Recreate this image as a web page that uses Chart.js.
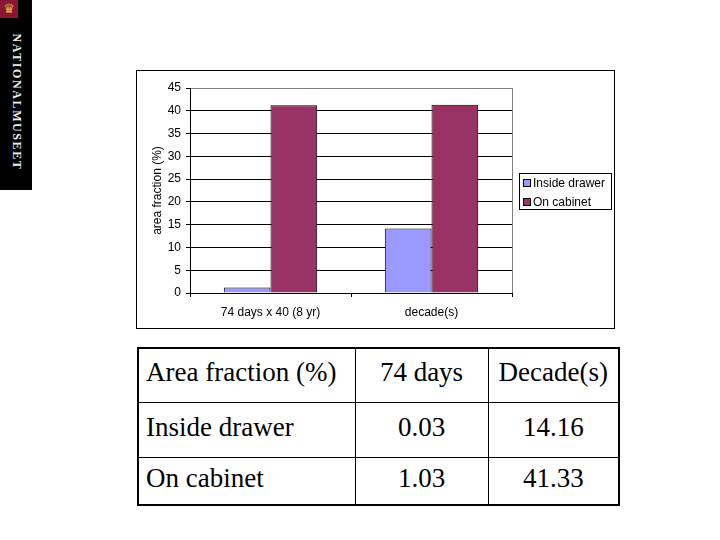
<!DOCTYPE html>
<html>
<head>
<meta charset="utf-8">
<script src="https://cdn.jsdelivr.net/npm/chart.js@4.4.0/dist/chart.umd.min.js"></script>
<style>
  body { margin: 0; background: #fff; width: 720px; height: 540px; position: relative; overflow: hidden; }
  #logo { position: absolute; left: 0; top: 0; width: 32px; height: 190px; background: #000; }
  #crown { position: absolute; left: 0; top: 0; width: 18px; height: 18px; background: #8a1535;
           color: #e8b040; font: 13px "DejaVu Sans"; line-height: 18px; text-align: center; }
  #brand { position: absolute; left: 16px; top: 102px; transform: translate(-50%, -50%) rotate(90deg);
           color: #ececec; font: bold 12px "Liberation Serif"; letter-spacing: 1.6px;
           white-space: nowrap; }
  #box { position: absolute; left: 136px; top: 70px; width: 477px; height: 257px; border: 1px solid #000; }
  #wrap { position: absolute; left: 0; top: 0; width: 477px; height: 257px; }
  #legend { position: absolute; left: 382px; top: 102px; width: 91px; height: 35px; border: 1px solid #000;
            font: 12px "Liberation Sans"; }
  #legend div { position: absolute; left: 3px; height: 14px; line-height: 14px; white-space: nowrap; }
  #legend span { display: inline-block; width: 6px; height: 6px; border: 1px solid #000; margin-right: 2px; }
  table { position: absolute; left: 137px; top: 347px; width: 481px; height: 157px; border-collapse: collapse;
          table-layout: fixed; border: 2px solid #000; font: 27px "Liberation Serif"; }
  td { border: 1px solid #000; padding: 0 7px 5px 7px; white-space: nowrap; overflow: hidden; }
  td.num { text-align: center; }
</style>
</head>
<body>
<div id="logo"><div id="crown">♛</div><div id="brand">NATIONALMUSEET</div></div>
<div id="box">
  <div id="wrap"><canvas id="barChart"></canvas></div>
  <div id="legend"></div>
</div>
<table id="tbl"><colgroup><col style="width:217px"><col style="width:133px"><col style="width:131px"></colgroup></table>
<script>
const categories = ['74 days x 40 (8 yr)', 'decade(s)'];
const seriesNames = ['Inside drawer', 'On cabinet'];
const seriesColors = ['#9999FF', '#993366'];
const insideDrawer = [1.2, 14.16];
const onCabinet = [41.2, 41.33];

const tableHeader = ['Area fraction (%)', '74 days', 'Decade(s)'];
const tableInside = ['Inside drawer', '0.03', '14.16'];
const tableCabinet = ['On cabinet', '1.03', '41.33'];

// table below the chart
const tbl = document.getElementById('tbl');
const rowHeights = [54, 55, 48];
[tableHeader, tableInside, tableCabinet].forEach((row, i) => {
  const tr = document.createElement('tr');
  tr.style.height = rowHeights[i] + 'px';
  row.forEach((txt, j) => {
    const td = document.createElement('td');
    td.textContent = txt;
    if (j > 0) td.className = 'num';
    tr.appendChild(td);
  });
  tbl.appendChild(tr);
});

// legend box
const legend = document.getElementById('legend');
seriesNames.forEach((name, i) => {
  const d = document.createElement('div');
  d.style.top = (2 + i * 19) + 'px';
  d.innerHTML = '<span style="background:' + seriesColors[i] + '"></span>' + name;
  legend.appendChild(d);
});

// gray right edge of plot area
const plotFrame = {
  id: 'plotFrame',
  beforeDatasetsDraw(chart) {
    const { ctx, chartArea: a } = chart;
    ctx.save();
    ctx.strokeStyle = '#808080';
    ctx.lineWidth = 1;
    ctx.beginPath();
    ctx.moveTo(Math.round(a.right) + 0.5, a.top);
    ctx.lineTo(Math.round(a.right) + 0.5, a.bottom);
    ctx.stroke();
    ctx.restore();
  }
};

const font = { family: 'Liberation Sans', size: 12 };

new Chart(document.getElementById('barChart'), {
  type: 'bar',
  data: {
    labels: categories,
    datasets: [
      { label: seriesNames[0], data: insideDrawer, backgroundColor: seriesColors[0], borderColor: '#000', borderWidth: 1 },
      { label: seriesNames[1], data: onCabinet, backgroundColor: seriesColors[1], borderColor: '#000', borderWidth: 1 }
    ]
  },
  options: {
    responsive: true,
    maintainAspectRatio: false,
    animation: false,
    categoryPercentage: 0.58,
    barPercentage: 1,
    layout: { padding: { top: 17, right: 102, left: 0, bottom: 0 } },
    plugins: { legend: { display: false }, tooltip: { enabled: false } },
    scales: {
      x: {
        grid: { drawOnChartArea: false, tickLength: 4, color: '#000' },
        border: { color: '#000' },
        ticks: { color: '#000', font, padding: 8 },
        afterFit: s => { s.height = 35; }
      },
      y: {
        min: 0,
        max: 45,
        ticks: { stepSize: 5, color: '#000', font, padding: 5 },
        grid: { color: c => c.tick && c.tick.value === 45 ? '#808080' : '#000', tickColor: '#000', tickLength: 4 },
        border: { color: '#000' },
        title: { display: true, text: 'area fraction (%)', color: '#000', font, padding: { top: 13, bottom: 0 } },
        afterFit: s => { s.width = 53; }
      }
    }
  },
  plugins: [plotFrame]
});
</script>
</body>
</html>
